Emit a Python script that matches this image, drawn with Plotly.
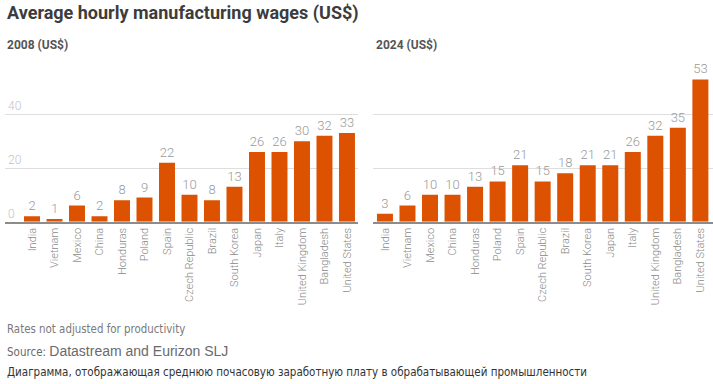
import plotly.graph_objects as go

countries_2008 = ["India", "Vietnam", "Mexico", "China", "Honduras", "Poland", "Spain",
                  "Czech Republic", "Brazil", "South Korea", "Japan", "Italy",
                  "United Kingdom", "Bangladesh", "United States"]
wages_2008 = [2, 1, 6, 2, 8, 9, 22, 10, 8, 13, 26, 26, 30, 32, 33]

countries_2024 = ["India", "Vietnam", "Mexico", "China", "Honduras", "Poland", "Spain",
                  "Czech Republic", "Brazil", "South Korea", "Japan", "Italy",
                  "United Kingdom", "Bangladesh", "United States"]
wages_2024 = [3, 6, 10, 10, 13, 15, 21, 15, 18, 21, 21, 26, 32, 35, 53]

y_ticks = [0, 20, 40]

BAR = "#DC5200"
W, H = 713, 384
NARROW = "DejaVu Sans Condensed"

fig = go.Figure()
fig.add_trace(go.Bar(x=countries_2008, y=wages_2008, text=wages_2008, textposition="outside",
                     marker=dict(color=BAR, line=dict(width=0)),
                     textfont=dict(color="#9a9a9a", size=13, family="Roboto", weight=300),
                     cliponaxis=False, xaxis="x", yaxis="y", hoverinfo="x+y"))
fig.add_trace(go.Bar(x=countries_2024, y=wages_2024, text=wages_2024, textposition="outside",
                     marker=dict(color=BAR, line=dict(width=0)),
                     textfont=dict(color="#9a9a9a", size=13, family="Roboto", weight=300),
                     cliponaxis=False, xaxis="x2", yaxis="y2", hoverinfo="x+y"))

y_bot = (H - 221.7) / H
y_top = (H - 60.6) / H

xcommon = dict(type="category", tickangle=-90, showgrid=False, showline=True,
               linecolor="#8c8c8c", linewidth=1.5, ticks="",
               tickfont=dict(color="#8a8a8a", size=11, family="Roboto", weight=300),
               fixedrange=True)
ycommon = dict(range=[0, 60], tickvals=y_ticks, showgrid=True, gridcolor="#dedede",
               gridwidth=1, zeroline=False, fixedrange=True)

fig.update_layout(
    width=W, height=H,
    margin=dict(l=0, r=0, t=0, b=0),
    paper_bgcolor="white", plot_bgcolor="white",
    showlegend=False, bargap=0.29,
    xaxis=dict(domain=[5 / W, 358 / W], range=[-1.2, 14.49], anchor="y", **xcommon),
    xaxis2=dict(domain=[373 / W, 1.0], range=[-0.53, 14.56], anchor="y2", **xcommon),
    yaxis=dict(domain=[y_bot, y_top], anchor="x", ticklabelposition="inside top",
               tickfont=dict(color="#c4c4c4", size=12, family="Roboto", weight=300),
               **ycommon),
    yaxis2=dict(domain=[y_bot, y_top], anchor="x2", showticklabels=False, **ycommon),
    font=dict(family="Roboto"),
)

ann = [
    dict(text="<b>Average hourly manufacturing wages (US$)</b>", x=5, y=13,
         font=dict(size=18, color="#3c3c3c", family="Roboto")),
    dict(text="<b>2008 (US$)</b>", x=5, y=45, font=dict(size=12, color="#555555", family="Roboto")),
    dict(text="<b>2024 (US$)</b>", x=374, y=45, font=dict(size=12, color="#555555", family="Roboto")),
    dict(text="Rates not adjusted for productivity", x=5, y=329,
         font=dict(size=11.4, color="#7a7a7a", family=NARROW)),
    dict(text="Source: <span style='font-family:Liberation Sans;font-size:14px'>Datastream and Eurizon SLJ</span>",
         x=5, y=351, font=dict(size=11.5, color="#6a6a6a", family=NARROW)),
    dict(text="Диаграмма, отображающая среднюю почасовую заработную плату в обрабатывающей промышленности",
         x=5, y=372, font=dict(size=11.5, color="#333333", family=NARROW)),
]
for a in ann:
    fig.add_annotation(xref="paper", yref="paper", x=a["x"] / W, y=1 - a["y"] / H,
                       xanchor="left", yanchor="middle", showarrow=False,
                       text=a["text"], font=a["font"])

fig.write_html("out.html", config={"displayModeBar": False},
               post_script="document.body.style.margin='0';document.body.style.overflow='hidden';")
